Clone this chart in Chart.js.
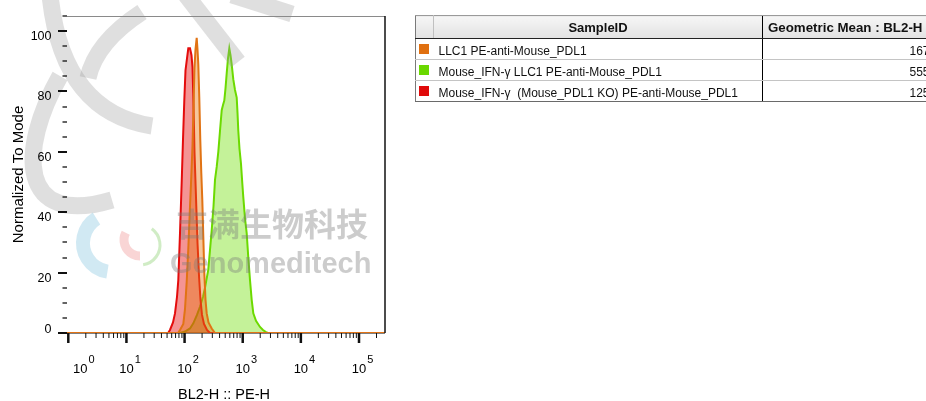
<!DOCTYPE html>
<html>
<head>
<meta charset="utf-8">
<script src="https://cdn.jsdelivr.net/npm/chart.js@4.4.1/dist/chart.umd.min.js"></script>
<style>
  html, body { margin:0; padding:0; background:#fff; width:926px; height:401px; overflow:hidden; }
  #wrap { position:absolute; left:0; top:0; width:926px; height:401px; }
  table.fj { position:absolute; left:415px; top:15px; width:517px; border-collapse:collapse; table-layout:fixed;
             font-family:'Liberation Sans', Arial, sans-serif; color:#111; }
  table.fj th { height:22px; padding:0; font-size:13px; font-weight:bold;
                background:linear-gradient(#f6f6f6,#e2e2e2); border-top:1px solid #9a9a9a; border-bottom:1px solid #222; }
  table.fj td { height:20px; padding:0; font-size:12px; border-bottom:1px solid #c4c4c4; white-space:pre; overflow:hidden; }
  table.fj tr.last td { border-bottom:1px solid #6a6a6a; }
  table.fj .c1 { border-left:1px solid #7a7a7a; }
  table.fj th.c1 { border-right:1px solid #c0c0c0; }
  table.fj .c3 { border-left:1px solid #000; }
  table.fj th.c3 { text-align:left; padding-left:5px; font-size:13.3px; white-space:nowrap; overflow:hidden; }
  table.fj td.c2 span { position:relative; top:2px; padding-left:5px; }
  table.fj td.c3 { text-align:right; padding-right:3px; }
  table.fj td.c3 span { position:relative; top:2px; }
  .sw { display:block; width:10px; height:10px; margin-left:3px; position:relative; top:0px; }
</style>
</head>
<body>
<div id="wrap"><canvas id="c" width="926" height="401"></canvas></div>
<table class="fj">
  <colgroup><col style="width:18px"><col style="width:329px"><col style="width:170px"></colgroup>
  <tr><th class="c1"></th><th class="c2">SampleID</th><th class="c3">Geometric Mean : BL2-H</th></tr>
  <tr><td class="c1"><span class="sw" id="sw0"></span></td><td class="c2"><span id="n0"></span></td><td class="c3"><span id="v0"></span></td></tr>
  <tr><td class="c1"><span class="sw" id="sw1"></span></td><td class="c2"><span id="n1"></span></td><td class="c3"><span id="v1"></span></td></tr>
  <tr class="last"><td class="c1"><span class="sw" id="sw2"></span></td><td class="c2"><span id="n2"></span></td><td class="c3"><span id="v2"></span></td></tr>
</table>
<script>
// ---------------- data ----------------
const sampleNames = ['LLC1 PE-anti-Mouse_PDL1', 'Mouse_IFN-γ LLC1 PE-anti-Mouse_PDL1', 'Mouse_IFN-γ  (Mouse_PDL1 KO) PE-anti-Mouse_PDL1'];
const geoMeans = ['167', '555', '125'];
const sampleColors = ['#e07010', '#6ad800', '#e00a0a'];

const xTickExponents = [0, 1, 2, 3, 4, 5];
const yTickLabels = [0, 20, 40, 60, 80, 100];

// LLC1 PE-anti-Mouse_PDL1 (orange)
const orangeX = [0.95, 77.0, 83.4, 95.1, 101.7, 108.8, 115.9, 124.0, 130.5, 136.8, 142.4, 148.1, 154.1, 161.6, 166.8, 172.2, 179.1, 186.3, 193.9, 201.8, 209.9, 218.4, 229.0, 240.2, 257.9, 292.7, 333.6, 280000];
const orangeY = [0, 0, 1, 3, 8, 17, 28, 42, 52, 62, 75, 88, 94, 97.8, 94, 89, 78, 64, 53, 44, 32, 20, 11, 6.5, 3.5, 1.5, 0, 0];

// Mouse_IFN-γ LLC1 PE-anti-Mouse_PDL1 (green)
const greenX = [0.95, 83.4, 101.7, 124.0, 141.3, 163.5, 184.1, 207.4, 224.5, 255.9, 292.7, 314.4, 333.6, 356.9, 380.2, 406.7, 435.1, 458.0, 482.2, 505.6, 530.2, 558.2, 587.8, 616.3, 646.3, 688.7, 736.6, 788.0, 813.2, 839.5, 880.3, 934.1, 983.5, 1023, 1094, 1171, 1247, 1334, 1427, 1521, 1692, 1983, 2233, 2514, 2721, 280000];
const greenY = [0, 0, 0.5, 1.5, 3.2, 6, 8.7, 12, 15, 21, 34, 42, 50.7, 55, 60, 67, 73.8, 75.5, 77, 81, 86, 91, 94.3, 92, 89, 84, 80.5, 78, 73, 67, 61, 56, 49.6, 45, 38, 33, 25, 17.5, 11, 6.5, 4, 2, 1, 0.3, 0, 0];

// Mouse_IFN-γ (Mouse_PDL1 KO) PE-anti-Mouse_PDL1 (red)
const redX = [0.95, 52, 56.1, 63.2, 68.4, 74.1, 78.0, 83.4, 89.2, 93.9, 98.9, 103.7, 110.1, 115.9, 124.0, 131.5, 136.8, 142.4, 148.1, 154.1, 160.3, 166.8, 177.0, 187.8, 199.4, 215.8, 243.0, 273.6, 280000];
const redY = [0, 0, 1, 3.5, 6.5, 12, 17.5, 33, 50, 64, 77, 87, 91, 94.3, 94.3, 92, 88, 76, 60, 50, 40, 30, 19, 11, 6, 3, 1, 0, 0];

// ---------------- table ----------------
for (let i = 0; i < 3; i++) {
  document.getElementById('n' + i).textContent = sampleNames[i];
  document.getElementById('v' + i).textContent = geoMeans[i];
  document.getElementById('sw' + i).style.background = sampleColors[i];
}

const pts = (xs, ys) => xs.map((x, i) => ({ x: x, y: ys[i] }));
const FONT = "'Liberation Sans', Arial, sans-serif";

const flowAxes = {
  id: 'flowAxes',
  beforeDatasetsDraw(chart) {
    const { ctx, chartArea: a } = chart;
    ctx.save();
    ctx.strokeStyle = '#000';
    ctx.lineWidth = 1;
    ctx.beginPath(); ctx.moveTo(a.left, a.bottom); ctx.lineTo(a.right, a.bottom); ctx.stroke();
    ctx.restore();
  },
  afterDatasetsDraw(chart) {
    // watermark
    const ctx = chart.ctx;
    ctx.save();
    ctx.lineCap = 'butt';
    ctx.strokeStyle = 'rgba(150,150,150,0.3)';
    ctx.lineWidth = 17;
    ctx.beginPath(); ctx.moveTo(50, -5); ctx.quadraticCurveTo(62, 112, 152, 126); ctx.stroke();
    ctx.beginPath(); ctx.moveTo(142, 12); ctx.quadraticCurveTo(96, 42, 88, 78); ctx.stroke();
    ctx.beginPath(); ctx.moveTo(186, -5); ctx.lineTo(238, 62); ctx.stroke();
    ctx.beginPath(); ctx.moveTo(232, -5); ctx.lineTo(292, 14); ctx.stroke();
    ctx.beginPath(); ctx.moveTo(60, 76); ctx.bezierCurveTo(18, 150, 18, 228, 112, 200); ctx.stroke();
    // logo
    ctx.lineWidth = 14;
    ctx.strokeStyle = 'rgba(140,200,225,0.4)';
    ctx.beginPath(); ctx.arc(112, 243, 29, Math.PI * 1.32, Math.PI * 0.55, true); ctx.stroke();
    ctx.lineWidth = 9;
    ctx.strokeStyle = 'rgba(240,150,150,0.4)';
    ctx.beginPath(); ctx.arc(140, 240, 16, Math.PI * 1.15, Math.PI * 0.5, true); ctx.stroke();
    ctx.lineWidth = 3;
    ctx.strokeStyle = 'rgba(170,220,150,0.55)';
    ctx.beginPath(); ctx.arc(140, 245, 20, Math.PI * 1.7, Math.PI * 0.45, false); ctx.stroke();
    // watermark text
    ctx.fillStyle = 'rgba(120,120,120,0.38)';
    ctx.textAlign = 'left'; ctx.textBaseline = 'alphabetic';
    ctx.font = "bold 32px 'Noto Sans CJK SC'";
    ctx.fillText('吉满生物科技', 176, 236);
    ctx.font = 'bold 29px ' + FONT;
    ctx.fillText('Genomeditech', 170, 273);
    ctx.restore();
  },
  afterDraw(chart) {
    const { ctx, chartArea: a, scales: { x, y } } = chart;
    ctx.save();
    ctx.fillStyle = '#000';
    // frame: top + right
    ctx.lineWidth = 1;
    ctx.strokeStyle = '#8a8a8a';
    ctx.beginPath(); ctx.moveTo(a.left, a.top + 0.5); ctx.lineTo(a.right, a.top + 0.5); ctx.stroke();
    ctx.strokeStyle = '#111';
    ctx.lineWidth = 1.5;
    ctx.beginPath(); ctx.moveTo(a.right, a.top); ctx.lineTo(a.right, a.bottom); ctx.stroke();
    // y ticks
    for (let v = 0; v <= 105; v += 5) {
      const py = Math.round(y.getPixelForValue(v));
      const major = v % 20 === 0;
      ctx.lineWidth = major ? 2 : 1.3;
      ctx.beginPath();
      ctx.moveTo(major ? a.left - 9 : a.left - 4.5, py);
      ctx.lineTo(a.left, py);
      ctx.stroke();
    }
    ctx.font = '12.5px ' + FONT;
    ctx.textAlign = 'right';
    ctx.textBaseline = 'alphabetic';
    yTickLabels.forEach(v => {
      const py = y.getPixelForValue(v);
      ctx.fillText(String(v), 51.5, v === 0 ? py : py + 9);
    });
    // x ticks
    for (let d = 0; d <= 5; d++) {
      for (let m = 1; m <= 9; m++) {
        const val = m * Math.pow(10, d);
        if (val < x.min || val > x.max) continue;
        const px = x.getPixelForValue(val);
        const major = m === 1;
        ctx.lineWidth = major ? 2.5 : 1;
        ctx.beginPath();
        ctx.moveTo(px, a.bottom);
        ctx.lineTo(px, a.bottom + (major ? 10 : 5));
        ctx.stroke();
      }
    }
    xTickExponents.forEach(e => {
      const px = x.getPixelForValue(Math.pow(10, e)) + (e === 0 ? 12 : 0);
      ctx.font = '13px ' + FONT;
      ctx.textAlign = 'center';
      ctx.fillText('10', px, 373);
      const w = ctx.measureText('10').width;
      ctx.font = '11px ' + FONT;
      ctx.textAlign = 'left';
      ctx.fillText(String(e), px + w / 2 + 1, 362.5);
    });
    // titles
    ctx.font = '14.5px ' + FONT;
    ctx.textAlign = 'center';
    ctx.fillText('BL2-H :: PE-H', (a.left + a.right) / 2 - 2, 399);
    ctx.font = '15px ' + FONT;
    ctx.translate(22.5, (a.top + a.bottom) / 2);
    ctx.rotate(-Math.PI / 2);
    ctx.fillText('Normalized To Mode', 0, 0);
    ctx.restore();
  }
};

new Chart(document.getElementById('c'), {
  type: 'line',
  data: {
    datasets: [
      { label: sampleNames[0], data: pts(orangeX, orangeY), order: 0,
        borderColor: 'rgb(225,115,20)', backgroundColor: 'rgba(232,120,20,0.42)', borderWidth: 2, fill: 'origin' },
      { label: sampleNames[2], data: pts(redX, redY), order: 1,
        borderColor: 'rgb(228,12,12)', backgroundColor: 'rgba(228,0,0,0.42)', borderWidth: 2, fill: 'origin' },
      { label: sampleNames[1], data: pts(greenX, greenY), order: 2,
        borderColor: 'rgb(108,218,0)', backgroundColor: 'rgba(108,222,0,0.4)', borderWidth: 2, fill: 'origin' }
    ]
  },
  options: {
    responsive: false,
    animation: false,
    events: [],
    elements: { point: { radius: 0 }, line: { tension: 0 } },
    layout: { padding: { left: 67, right: 541, top: 16, bottom: 68 } },
    plugins: { legend: { display: false }, tooltip: { enabled: false } },
    scales: {
      x: { type: 'logarithmic', min: 0.95, max: 280000, display: false },
      y: { type: 'linear', min: 0, max: 105, display: false }
    }
  },
  plugins: [flowAxes]
});
</script>
</body>
</html>
